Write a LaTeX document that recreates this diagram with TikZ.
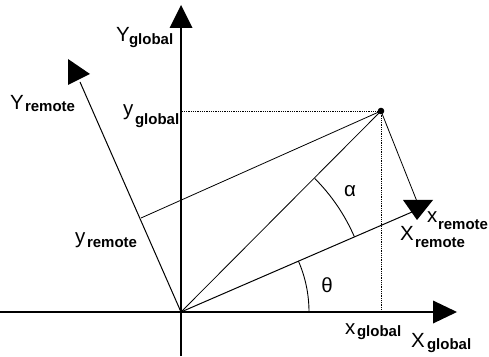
\documentclass[tikz,border=0pt]{standalone}
\usepackage{fontspec}
\setmainfont{Liberation Sans}
\newcommand{\mainlab}[1]{\fontsize{20.5}{20.5}\selectfont #1}
\newcommand{\sublab}[1]{\fontsize{15}{15}\selectfont\bfseries #1}
\begin{document}
\begin{tikzpicture}[x=1pt,y=1pt,
  lab/.style={inner sep=0pt,outer sep=0pt,anchor=base west},
  axis/.style={line width=1.4pt},
  raxis/.style={line width=1pt},
  thin/.style={line width=0.8pt},
  guide/.style={line width=0.8pt,densely dotted},
  arc/.style={line width=0.9pt}]
\useasboundingbox (0,0) rectangle (489,356);
% key points
\coordinate (O) at (181,44);
\coordinate (P) at (381,245);
\coordinate (Ybot) at (181,0);
\coordinate (Ytip) at (181,351);
\coordinate (Xleft) at (0,44);
\coordinate (Xtip) at (457,44);
\coordinate (YRend) at (80,274);
\coordinate (XRend) at (412,144);
\coordinate (FY) at (141,138);
\coordinate (FX) at (418,152);
\coordinate (PY) at (181,245);
\coordinate (PX) at (381,44);
% global axes
\draw[axis] (Ybot) -- (181,330);
\fill (Ytip) -- (169.5,328) -- (192.5,328) -- cycle;
\draw[axis] (Xleft) -- (434,44);
\fill (Xtip) -- (433,55.5) -- (433,32.5) -- cycle;
% remote axes
\draw[raxis] (O) -- (YRend);
\fill (68,297) -- (90,282) -- (68,271) -- cycle;
\draw[raxis] (O) -- (XRend);
\fill (403,156) -- (433,156) -- (417,136) -- cycle;
% projections
\draw[guide] (P) -- (PY);
\draw[guide] (P) -- (PX);
\draw[thin] (P) -- (FY);
\draw[thin] (P) -- (FX);
\draw[thin] (O) -- (P);
\fill (P) circle (3.3);
% angle arcs
\draw[arc] (O) ++(0:128) arc[start angle=0,end angle=23.5,radius=128];
\draw[arc] (O) ++(23.5:189) arc[start angle=23.5,end angle=45,radius=189];
% labels
\node[lab] (lYg) at (116,314) {\mainlab{Y}};
\node[lab] (lYgs) at (129,311) {\sublab{global}};
\node[lab] (lYr) at (10,246) {\mainlab{Y}};
\node[lab] (lYrs) at (25,244) {\sublab{remote}};
\node[lab] (lyg) at (123,240) {\mainlab{y}};
\node[lab] (lygs) at (135,231) {\sublab{global}};
\node[lab] (lyr) at (75,113) {\mainlab{y}};
\node[lab] (lyrs) at (87,109) {\sublab{remote}};
\node[inner sep=0pt] (lalpha) at (350,165) {\mainlab{α}};
\node[inner sep=0pt] (ltheta) at (327,71) {\mainlab{θ}};
\node[lab] (lxr) at (427,133) {\mainlab{x}};
\node[lab] (lxrs) at (438,126) {\sublab{remote}};
\node[lab] (lXr) at (400,116) {\mainlab{X}};
\node[lab] (lXrs) at (415,109) {\sublab{remote}};
\node[lab] (lxg) at (345,22) {\mainlab{x}};
\node[lab] (lxgs) at (357,20) {\sublab{global}};
\node[lab] (lXg) at (411,9) {\mainlab{X}};
\node[lab] (lXgs) at (427,6.5) {\sublab{global}};
\end{tikzpicture}
\end{document}
